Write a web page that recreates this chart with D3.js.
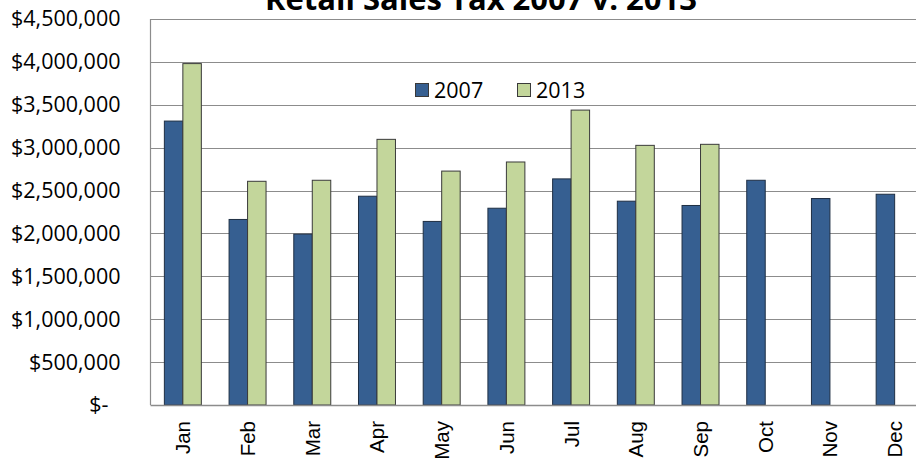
<!DOCTYPE html>
<html>
<head>
<meta charset="utf-8">
<script src="https://cdn.jsdelivr.net/npm/d3@7/dist/d3.min.js"></script>
<style>
  html, body { margin: 0; padding: 0; background: #ffffff; overflow: hidden; }
  svg { display: block; }
</style>
</head>
<body>
<svg id="chart" width="916" height="466"></svg>
<script>
// Monthly retail sales tax receipts
const months = ["Jan", "Feb", "Mar", "Apr", "May", "Jun", "Jul", "Aug", "Sep", "Oct", "Nov", "Dec"];
const seriesNames = ["2007", "2013"];
const sales2007 = [3310000, 2163000, 1992000, 2434000, 2140000, 2294000, 2636000, 2376000, 2326000, 2620000, 2407000, 2457000];
const sales2013 = [3980000, 2608000, 2620000, 3097000, 2727000, 2833000, 3438000, 3027000, 3039000, null, null, null];
const yTicks = [0, 500000, 1000000, 1500000, 2000000, 2500000, 3000000, 3500000, 4000000, 4500000];
const chartTitle = "Retail Sales Tax 2007 v. 2013";

const colors = { "2007": "#365F91", "2013": "#C3D69B" };
const seriesValues = { "2007": sales2007, "2013": sales2013 };

const svg = d3.select("#chart");
const plot = { left: 150.5, right: 927, top: 19, bottom: 405 };

const y = d3.scaleLinear().domain([0, 4500000]).range([plot.bottom, plot.top]);
const x0 = d3.scaleBand().domain(months).range([plot.left, plot.right])
  .paddingInner(0.4286).paddingOuter(0.2143);
const x1 = d3.scaleBand().domain(seriesNames).range([0, x0.bandwidth()]);

// gridlines
svg.append("g")
  .selectAll("line")
  .data(yTicks.filter(v => v > 0))
  .join("line")
  .attr("x1", plot.left).attr("x2", plot.right)
  .attr("y1", d => Math.round(y(d)) + 0.5).attr("y2", d => Math.round(y(d)) + 0.5)
  .attr("stroke", "#8c8c8c").attr("stroke-width", 1.2);

// bars
const rows = months.map((m, i) => ({ month: m, values: seriesNames.map(s => ({ s, v: seriesValues[s][i] })) }));
svg.append("g")
  .selectAll("g")
  .data(rows)
  .join("g")
  .attr("transform", d => `translate(${x0(d.month)},0)`)
  .selectAll("rect")
  .data(d => d.values.filter(e => e.v != null))
  .join("rect")
  .attr("x", d => x1(d.s))
  .attr("width", x1.bandwidth())
  .attr("y", d => y(d.v))
  .attr("height", d => y(0) - y(d.v))
  .attr("fill", d => colors[d.s])
  .attr("stroke", d => d.s === "2007" ? "#1f2f44" : "#3a3a3a")
  .attr("stroke-width", 1);

// axis lines
svg.append("line")
  .attr("x1", plot.left).attr("x2", plot.left)
  .attr("y1", plot.top).attr("y2", plot.bottom)
  .attr("stroke", "#8c8c8c").attr("stroke-width", 1.2);
svg.append("line")
  .attr("x1", plot.left).attr("x2", plot.right)
  .attr("y1", plot.bottom + 0.5).attr("y2", plot.bottom + 0.5)
  .attr("stroke", "#8c8c8c").attr("stroke-width", 1.5);

// y axis labels
const yAxis = d3.axisLeft(y)
  .tickValues(yTicks)
  .tickSize(0)
  .tickPadding(30)
  .tickFormat(v => v === 0 ? "$-" : "$" + d3.format(",")(v));
const gy = svg.append("g").attr("transform", `translate(${plot.left},0)`).call(yAxis);
gy.select(".domain").remove();
gy.selectAll("text")
  .attr("font-family", "'Open Sans', sans-serif")
  .attr("font-size", 21.5)
  .attr("fill", "#000")
  .attr("dx", v => v === 0 ? -12 : 0);

// x axis labels, rotated
const xAxis = d3.axisBottom(x0).tickSize(0).tickPadding(0);
const gx = svg.append("g").attr("transform", `translate(0,${plot.bottom})`).call(xAxis);
gx.select(".domain").remove();
gx.selectAll("text")
  .attr("font-family", "'Liberation Sans', Arial, sans-serif")
  .attr("font-size", 20.5)
  .attr("fill", "#000")
  .attr("text-anchor", "end")
  .attr("dy", null)
  .attr("y", 0)
  .attr("transform", "translate(7.5,16) rotate(-90)");

// title
svg.append("text")
  .attr("x", 481)
  .attr("y", 10)
  .attr("text-anchor", "middle")
  .attr("font-family", "'Open Sans', sans-serif")
  .attr("font-weight", "bold")
  .attr("font-size", 31)
  .attr("fill", "#000")
  .text(chartTitle);

// legend
const legend = svg.append("g").attr("transform", "translate(415,83)");
const item = legend.selectAll("g")
  .data(seriesNames)
  .join("g")
  .attr("transform", (d, i) => `translate(${i * 102},0)`);
item.append("rect")
  .attr("x", 0.5).attr("y", 0.5)
  .attr("width", 13).attr("height", 13)
  .attr("fill", d => colors[d])
  .attr("stroke", "#3a3a3a").attr("stroke-width", 1);
item.append("text")
  .attr("x", 19)
  .attr("y", 7)
  .attr("dy", "0.36em")
  .attr("font-family", "'Open Sans', sans-serif")
  .attr("font-size", 21.5)
  .attr("fill", "#000")
  .text(d => d);
</script>
</body>
</html>
